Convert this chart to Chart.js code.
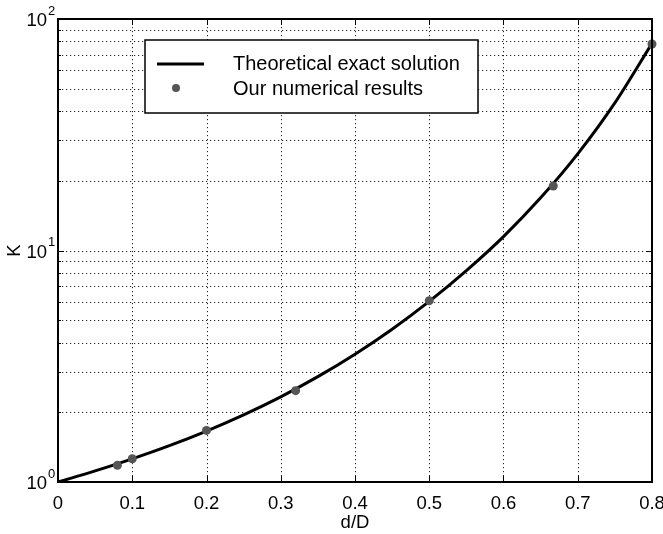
<!DOCTYPE html>
<html>
<head>
<meta charset="utf-8">
<script src="https://cdn.jsdelivr.net/npm/chart.js@4"></script>
<style>
  html, body { margin:0; padding:0; background:#fff; overflow:hidden; }
  #wrap { width:663px; height:534px; position:relative; }
</style>
</head>
<body>
<div id="wrap"><canvas id="kChart" width="663" height="534"></canvas></div>
<script>
// K versus d/D, log scale on K

// theoretical curve
const curveX = [0, 0.05, 0.1, 0.15, 0.2, 0.25, 0.3, 0.35, 0.4, 0.45, 0.5, 0.55, 0.6, 0.65, 0.7, 0.75, 0.8];
const curveK = [1, 1.117, 1.259, 1.435, 1.66, 1.95, 2.333, 2.851, 3.565, 4.571, 6.026, 8.185, 11.48, 16.88, 26.15, 43.4, 78.5];

// numerical results (dots)
const pointX = [0.08, 0.1, 0.2, 0.32, 0.5, 0.667, 0.8];
const pointK = [1.18, 1.26, 1.67, 2.48, 6.07, 19.0, 78];

const xTickValues = [0, 0.1, 0.2, 0.3, 0.4, 0.5, 0.6, 0.7, 0.8];
const yTickValues = [1, 2, 3, 4, 5, 6, 7, 8, 9, 10, 20, 30, 40, 50, 60, 70, 80, 90, 100];
const yLabelValues = [1, 10, 100];
const yLabelExponents = ['0', '1', '2'];

const legendLabels = ['Theoretical exact solution', 'Our numerical results'];

const FONT = '"Liberation Sans", Arial, Helvetica, sans-serif';

const matlabLook = {
  id: 'matlabLook',
  beforeDatasetsDraw(chart) {
    const { ctx, chartArea: a, scales: { x, y } } = chart;
    ctx.save();
    ctx.strokeStyle = '#222';
    ctx.lineWidth = 1;
    ctx.setLineDash([1.2, 2.8]);
    // dotted grid
    xTickValues.forEach(v => {
      const px = Math.round(x.getPixelForValue(v)) + 0.5;
      ctx.beginPath(); ctx.moveTo(px, a.top); ctx.lineTo(px, a.bottom); ctx.stroke();
    });
    yTickValues.forEach(v => {
      const py = Math.round(y.getPixelForValue(v)) + 0.5;
      ctx.beginPath(); ctx.moveTo(a.left, py); ctx.lineTo(a.right, py); ctx.stroke();
    });
    ctx.setLineDash([]);
    ctx.strokeStyle = '#000';
    // inward ticks
    xTickValues.forEach(v => {
      const px = Math.round(x.getPixelForValue(v)) + 0.5;
      ctx.beginPath();
      ctx.moveTo(px, a.bottom); ctx.lineTo(px, a.bottom - 6);
      ctx.moveTo(px, a.top); ctx.lineTo(px, a.top + 6);
      ctx.stroke();
    });
    yTickValues.forEach(v => {
      const py = Math.round(y.getPixelForValue(v)) + 0.5;
      const len = yLabelValues.includes(v) ? 6 : 3;
      ctx.beginPath();
      ctx.moveTo(a.left, py); ctx.lineTo(a.left + len, py);
      ctx.moveTo(a.right, py); ctx.lineTo(a.right - len, py);
      ctx.stroke();
    });
    ctx.restore();
  },
  afterDatasetsDraw(chart) {
    const { ctx, chartArea: a, scales: { y } } = chart;
    ctx.save();
    // y labels 10^n
    ctx.fillStyle = '#000';
    yLabelValues.forEach((v, i) => {
      const py = y.getPixelForValue(v);
      ctx.font = '18.5px ' + FONT;
      ctx.textAlign = 'right';
      ctx.textBaseline = 'middle';
      ctx.fillText('10', a.left - 11, py + 2);
      ctx.font = '13px ' + FONT;
      ctx.textAlign = 'left';
      ctx.fillText(yLabelExponents[i], a.left - 10, py - 8);
    });

    // legend box
    const lx = a.left + 87, ly = a.top + 21, lw = 333, lh = 73;
    ctx.fillStyle = '#fff';
    ctx.fillRect(lx, ly, lw, lh);
    ctx.strokeStyle = '#000';
    ctx.lineWidth = 1.5;
    ctx.strokeRect(lx, ly, lw, lh);
    ctx.lineWidth = 3;
    ctx.beginPath(); ctx.moveTo(lx + 12, ly + 24); ctx.lineTo(lx + 59, ly + 24); ctx.stroke();
    ctx.fillStyle = '#555';
    ctx.beginPath(); ctx.arc(lx + 31, ly + 48, 4, 0, Math.PI * 2); ctx.fill();
    ctx.fillStyle = '#000';
    ctx.font = '20px ' + FONT;
    ctx.textAlign = 'left';
    ctx.textBaseline = 'middle';
    ctx.fillText(legendLabels[0], lx + 88, ly + 24);
    ctx.fillText(legendLabels[1], lx + 88, ly + 49);
    ctx.restore();
  },
  afterDraw(chart) {
    const { ctx, chartArea: a } = chart;
    // axes frame
    ctx.save();
    ctx.strokeStyle = '#000';
    ctx.lineWidth = 2;
    ctx.beginPath();
    ctx.moveTo(a.left, a.top); ctx.lineTo(a.right, a.top);
    ctx.lineTo(a.right, a.bottom); ctx.lineTo(a.left, a.bottom);
    ctx.closePath();
    ctx.stroke();
    ctx.restore();
  }
};

new Chart(document.getElementById('kChart'), {
  type: 'line',
  data: {
    datasets: [
      {
        label: legendLabels[1],
        data: pointX.map((v, i) => ({ x: v, y: pointK[i] })),
        showLine: false,
        pointRadius: 4.5,
        pointBackgroundColor: '#555',
        pointBorderWidth: 0,
        clip: false,
        order: 0
      },
      {
        label: legendLabels[0],
        data: curveX.map((v, i) => ({ x: v, y: curveK[i] })),
        borderColor: '#000',
        borderWidth: 3,
        pointRadius: 0,
        cubicInterpolationMode: 'monotone',
        fill: false,
        order: 1
      }
    ]
  },
  plugins: [matlabLook],
  options: {
    responsive: false,
    animation: false,
    layout: { padding: { left: 0, right: 11, top: 19, bottom: 0 } },
    plugins: { legend: { display: false }, tooltip: { enabled: false } },
    scales: {
      x: {
        type: 'linear',
        min: 0, max: 0.8,
        afterBuildTicks: s => { s.ticks = xTickValues.map(v => ({ value: v })); },
        afterFit: s => { s.height = 52; s.paddingLeft = 0; s.paddingRight = 0; },
        grid: { display: false, drawTicks: false },
        border: { display: false },
        ticks: {
          padding: 11,
          color: '#000',
          font: { family: FONT, size: 18.5 },
          callback: v => String(+v.toFixed(1))
        },
        title: {
          display: true, text: 'd/D', color: '#000',
          font: { family: FONT, size: 18.5 },
          padding: { top: -5, bottom: 0 }
        }
      },
      y: {
        type: 'logarithmic',
        min: 1, max: 100,
        afterBuildTicks: s => { s.ticks = yTickValues.map(v => ({ value: v })); },
        afterFit: s => { s.width = 58; },
        grid: { display: false, drawTicks: false },
        border: { display: false },
        ticks: { callback: () => '' },
        title: {
          display: true, text: 'K', color: '#000',
          font: { family: FONT, size: 18.5 },
          padding: { top: 4, bottom: 0 }
        }
      }
    }
  }
});
</script>
</body>
</html>
